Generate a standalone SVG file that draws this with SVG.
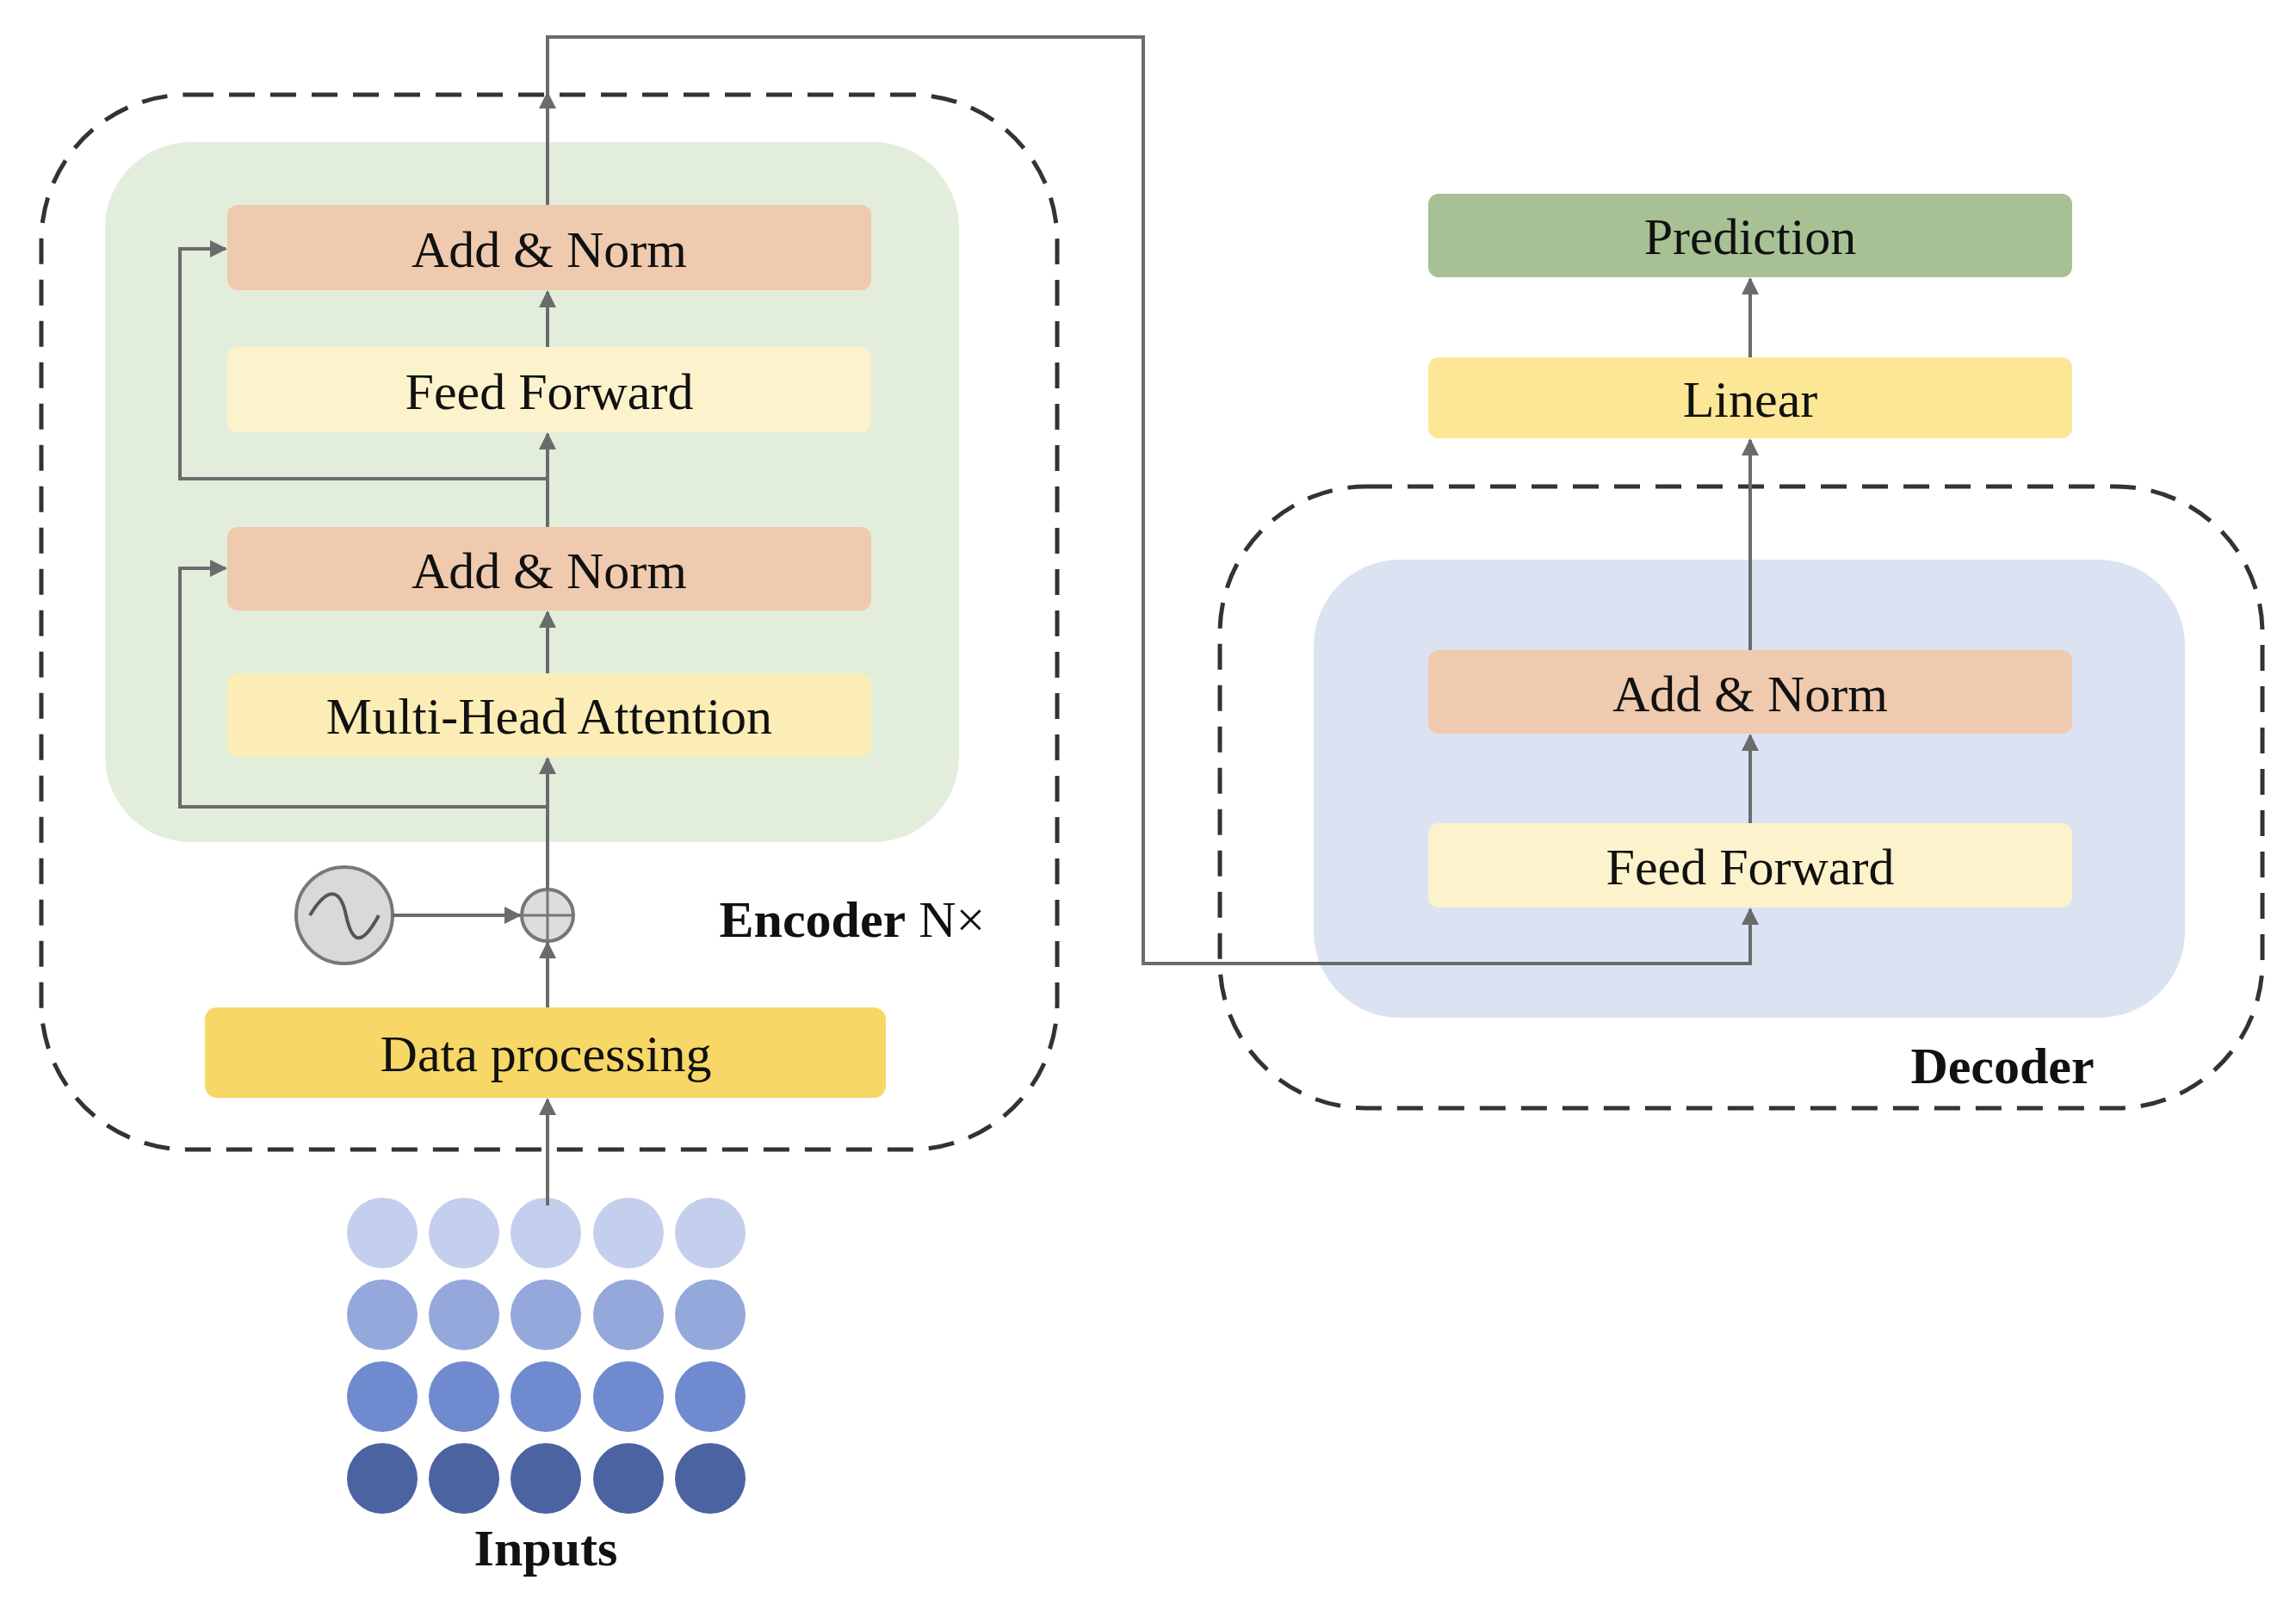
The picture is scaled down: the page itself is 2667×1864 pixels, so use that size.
<svg xmlns="http://www.w3.org/2000/svg" width="2667" height="1864" viewBox="0 0 2667 1864">
<style>
.t{font-family:"Liberation Serif",serif;font-size:60px;fill:#111;text-anchor:middle;dominant-baseline:central}
.b{font-weight:bold}
.c{fill:none;stroke:#6b6b6b;stroke-width:4}
.d{fill:none;stroke:#333;stroke-width:5;stroke-dasharray:30 18}
.an{fill:#efcaae}
</style>
<defs><marker id="a" viewBox="0 0 10 10" refX="9" refY="5" markerWidth="5" markerHeight="5" orient="auto"><path d="M0,0L10,5L0,10z" fill="#6b6b6b"/></marker></defs>
<rect width="2667" height="1864" fill="#fff"/>
<g id="encoder">
<rect class="d" x="48" y="110" width="1180" height="1225" rx="170"/>
<rect x="122" y="165" width="992" height="813" rx="100" fill="#e2eedb"/>
<text class="t" x="990" y="1068"><tspan class="b">Encoder</tspan> N×</text>
</g>
<g id="decoder">
<rect class="d" x="1417" y="565" width="1211" height="722" rx="170"/>
<rect x="1526" y="650" width="1012" height="532" rx="100" fill="#dbe3f2"/>
<text class="t b" x="2326" y="1238">Decoder</text>
</g>
<g id="enc-addnorm2"><rect class="an" x="264" y="238" width="748" height="99" rx="12"/><text class="t" x="638" y="290">Add &amp; Norm</text></g>
<g id="enc-ff"><rect x="264" y="403" width="748" height="99" rx="12" fill="#fcf2cc"/><text class="t" x="638" y="455">Feed Forward</text></g>
<g id="enc-addnorm1"><rect class="an" x="264" y="612" width="748" height="97" rx="12"/><text class="t" x="638" y="663">Add &amp; Norm</text></g>
<g id="mha"><rect x="264" y="782" width="748" height="97" rx="12" fill="#fbedb5"/><text class="t" x="638" y="832">Multi-Head Attention</text></g>
<g id="data"><rect x="238" y="1170" width="791" height="105" rx="14" fill="#f7d766"/><text class="t" x="634" y="1224">Data processing</text></g>
<g id="pos"><circle cx="400" cy="1063" r="56" fill="#d9d9d9" stroke="#777" stroke-width="4"/><path d="M360,1063 C380,1030 395,1030 402,1063 S420,1100 440,1063" fill="none" stroke="#555" stroke-width="4"/></g>
<g id="plus"><circle cx="636" cy="1063" r="30" fill="#ddd" stroke="#777" stroke-width="4"/><path d="M606,1063H666M636,1033V1093" stroke="#777" stroke-width="3"/></g>
<g id="dec-addnorm"><rect class="an" x="1659" y="755" width="748" height="97" rx="12"/><text class="t" x="2033" y="806">Add &amp; Norm</text></g>
<g id="dec-ff"><rect x="1659" y="956" width="748" height="98" rx="12" fill="#fcf2cc"/><text class="t" x="2033" y="1007">Feed Forward</text></g>
<g id="linear"><rect x="1659" y="415" width="748" height="94" rx="12" fill="#fbe796"/><text class="t" x="2033" y="464">Linear</text></g>
<g id="prediction"><rect x="1659" y="225" width="748" height="97" rx="12" fill="#a8c194"/><text class="t" x="2033" y="275">Prediction</text></g>
<g id="inputs">
<g fill="#c3cfec"><circle cx="444" cy="1432" r="41"/><circle cx="539" cy="1432" r="41"/><circle cx="634" cy="1432" r="41"/><circle cx="730" cy="1432" r="41"/><circle cx="825" cy="1432" r="41"/></g>
<g fill="#95a8dc"><circle cx="444" cy="1527" r="41"/><circle cx="539" cy="1527" r="41"/><circle cx="634" cy="1527" r="41"/><circle cx="730" cy="1527" r="41"/><circle cx="825" cy="1527" r="41"/></g>
<g fill="#6f8acf"><circle cx="444" cy="1622" r="41"/><circle cx="539" cy="1622" r="41"/><circle cx="634" cy="1622" r="41"/><circle cx="730" cy="1622" r="41"/><circle cx="825" cy="1622" r="41"/></g>
<g fill="#4c63a2"><circle cx="444" cy="1717" r="41"/><circle cx="539" cy="1717" r="41"/><circle cx="634" cy="1717" r="41"/><circle cx="730" cy="1717" r="41"/><circle cx="825" cy="1717" r="41"/></g>
<text class="t b" x="634" y="1798">Inputs</text>
</g>
<g id="connectors">
<path class="c" marker-end="url(#a)" d="M636,1400V1277"/>
<path class="c" marker-end="url(#a)" d="M636,1170V1095"/>
<path class="c" marker-end="url(#a)" d="M456,1063H604"/>
<path class="c" marker-end="url(#a)" d="M636,1033V881"/>
<path class="c" marker-end="url(#a)" d="M636,782V711"/>
<path class="c" marker-end="url(#a)" d="M636,612V504"/>
<path class="c" marker-end="url(#a)" d="M636,403V339"/>
<path class="c" marker-end="url(#a)" d="M636,937H209V660H262"/>
<path class="c" marker-end="url(#a)" d="M636,556H209V289H262"/>
<path class="c" marker-end="url(#a)" d="M636,238V108"/>
<path class="c" marker-end="url(#a)" d="M636,238V43H1328V1119H2033V1056"/>
<path class="c" marker-end="url(#a)" d="M2033,956V854"/>
<path class="c" marker-end="url(#a)" d="M2033,755V511"/>
<path class="c" marker-end="url(#a)" d="M2033,415V324"/>
</g>
</svg>
